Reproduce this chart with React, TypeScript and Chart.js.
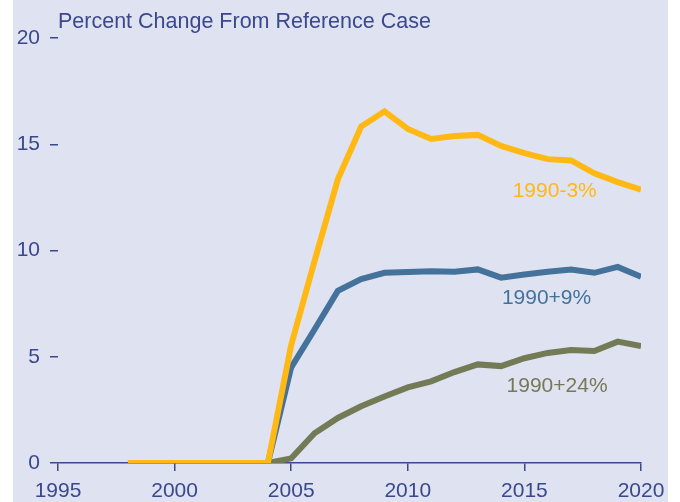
import React, { useEffect, useRef } from "react";
import { Chart, registerables } from "chart.js";

Chart.register(...registerables);

const years = [1998, 1999, 2000, 2001, 2002, 2003, 2004, 2005, 2006, 2007, 2008, 2009, 2010, 2011, 2012, 2013, 2014, 2015, 2016, 2017, 2018, 2019, 2020];
const minus3 = [0, 0, 0, 0, 0, 0, 0, 5.55, 9.5, 13.35, 15.83, 16.55, 15.72, 15.25, 15.39, 15.44, 14.92, 14.58, 14.3, 14.24, 13.63, 13.22, 12.86];
const plus9 = [0, 0, 0, 0, 0, 0, 0, 4.5, 6.28, 8.1, 8.65, 8.95, 8.99, 9.02, 9.0, 9.11, 8.72, 8.87, 9.0, 9.1, 8.95, 9.23, 8.77];
const plus24 = [0, 0, 0, 0, 0, 0, 0, 0.22, 1.4, 2.12, 2.67, 3.13, 3.56, 3.84, 4.28, 4.64, 4.56, 4.93, 5.18, 5.32, 5.27, 5.71, 5.5];
const seriesNames = ["1990-3%", "1990+9%", "1990+24%"];
const title = "Percent Change From Reference Case";
// label anchors in data units: [year, value]
const labelAnchors = [
  [2016.3, 12.53],
  [2015.95, 7.5],
  [2016.4, 3.33],
];

const AXIS = "rgb(58,72,140)";
const YELLOW = "rgb(255,184,20)";
const BLUE = "rgb(68,114,155)";
const GREEN = "rgb(115,122,86)";
const BG = "rgb(223,227,241)";
const FONT = "'Liberation Sans', Arial, sans-serif";

const toPts = (vals: number[]) => years.map((x, i) => ({ x, y: vals[i] }));

export default function App() {
  const ref = useRef<HTMLCanvasElement | null>(null);
  useEffect(() => {
    if (!ref.current) return;
    const colors = [YELLOW, BLUE, GREEN];
    const textPlugin = {
      id: "texts",
      afterDraw(chart: any) {
        const ctx = chart.ctx;
        const xs = chart.scales.x;
        const ys = chart.scales.y;
        ctx.save();
        ctx.font = `21.5px ${FONT}`;
        ctx.textBaseline = "alphabetic";
        ctx.textAlign = "left";
        ctx.fillStyle = AXIS;
        ctx.fillText(title, chart.chartArea.left, 27.5);
        ctx.font = `21px ${FONT}`;
        ctx.textAlign = "center";
        seriesNames.forEach((n, i) => {
          ctx.fillStyle = colors[i];
          ctx.fillText(n, xs.getPixelForValue(labelAnchors[i][0]), ys.getPixelForValue(labelAnchors[i][1]));
        });
        ctx.restore();
      },
    };
    const chart = new Chart(ref.current, {
      type: "line",
      data: {
        datasets: [
          { label: seriesNames[0], data: toPts(minus3), borderColor: YELLOW, order: 1 },
          { label: seriesNames[1], data: toPts(plus9), borderColor: BLUE, order: 2 },
          { label: seriesNames[2], data: toPts(plus24), borderColor: GREEN, order: 3 },
        ].map((d) => ({
          ...d,
          borderWidth: 6,
          pointRadius: 0,
          tension: 0,
          fill: false,
          borderJoinStyle: "miter" as const,
          borderCapStyle: "butt" as const,
        })),
      },
      options: {
        animation: false,
        responsive: false,
        maintainAspectRatio: false,
        devicePixelRatio: 1,
        layout: { padding: { top: 38, right: 39, left: 0, bottom: 0 } },
        plugins: { legend: { display: false }, tooltip: { enabled: false }, title: { display: false } },
        scales: {
          x: {
            type: "linear",
            min: 1995,
            max: 2020,
            afterFit: (s: any) => { s.height = 39; },
            ticks: { stepSize: 5, color: AXIS, font: { family: FONT, size: 21 }, padding: 8, callback: (v: any) => String(v), maxRotation: 0 },
            grid: { drawOnChartArea: false, drawTicks: true, tickLength: 8, color: AXIS, lineWidth: 1.5 },
            border: { display: true, color: AXIS, width: 1.5 },
          },
          y: {
            min: 0,
            max: 20,
            afterFit: (s: any) => { s.width = 58; },
            ticks: { stepSize: 5, color: AXIS, font: { family: FONT, size: 21 }, padding: 10 },
            grid: { drawOnChartArea: false, drawTicks: true, tickLength: 8, color: AXIS, lineWidth: 1.5 },
            border: { display: false },
          },
        },
      },
      plugins: [textPlugin],
    } as any);
    return () => chart.destroy();
  }, []);
  return (
    <div style={{ position: "absolute", left: 0, top: 0, width: 680, height: 502, background: "#fff" }}>
      <div style={{ position: "absolute", left: 13, top: 0, width: 655, height: 502, background: BG }} />
      <canvas ref={ref} width={680} height={502} style={{ position: "absolute", left: 0, top: 0, width: 680, height: 502 }} />
    </div>
  );
}
